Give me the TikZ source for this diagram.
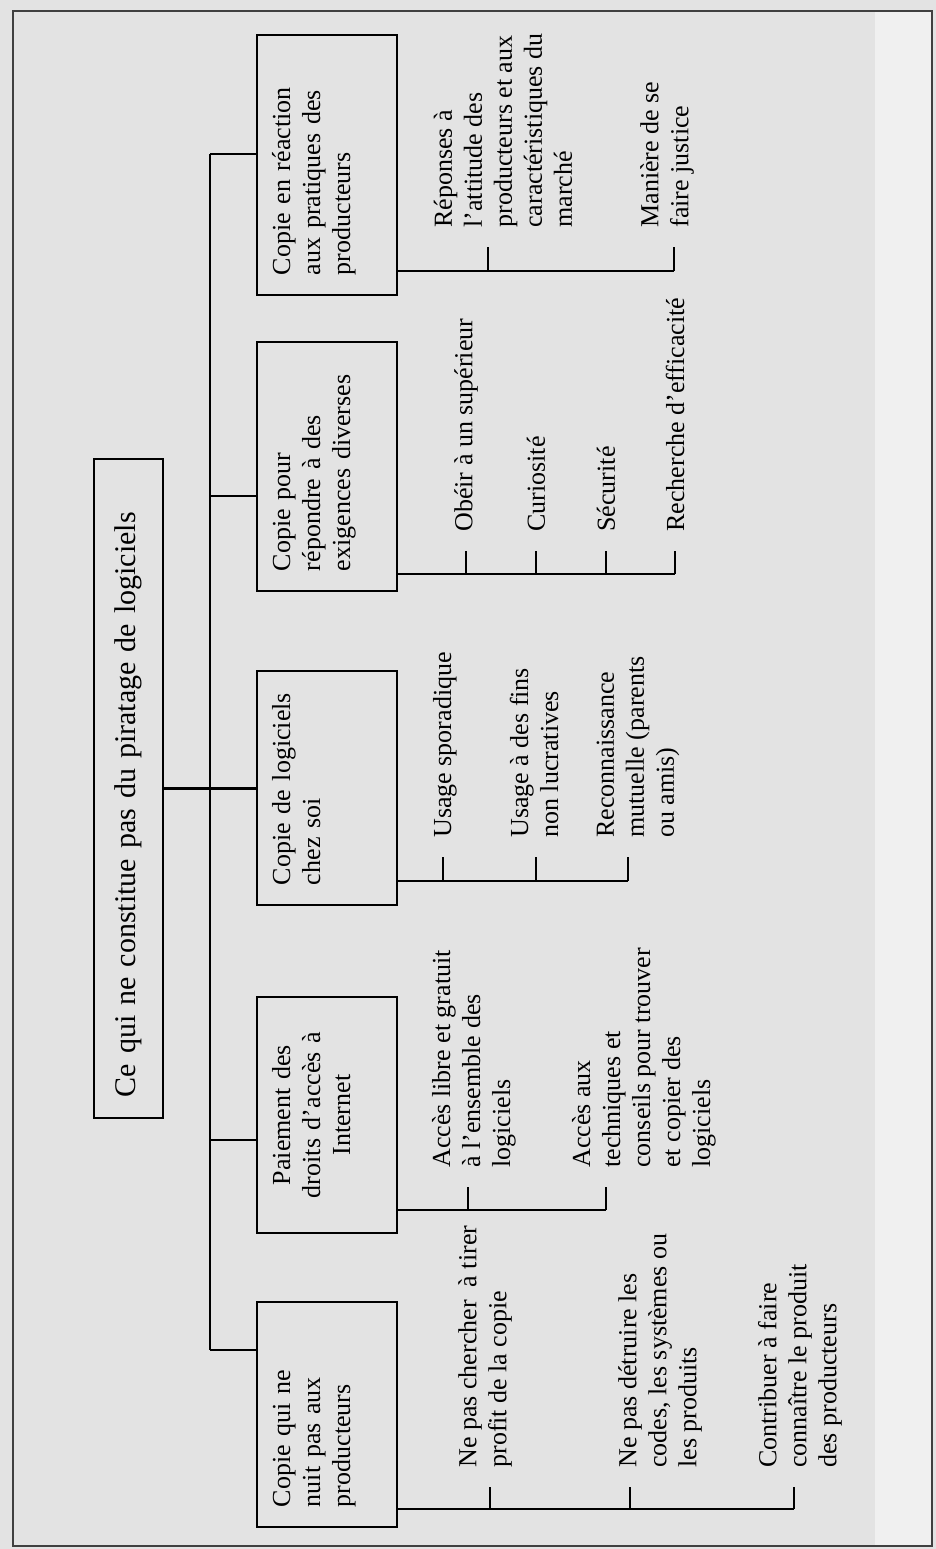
\documentclass[tikz,border=0pt]{standalone}
\usepackage{fontspec}
\setmainfont{Liberation Serif}
\usepackage{tikz}

\definecolor{scan}{gray}{.89}
\definecolor{scanlight}{gray}{.94}

\tikzset{
  frame/.style={draw=black!75, line width=.8pt},
  link/.style={line width=1.25pt},
  rootbox/.style={draw, line width=1.4pt, rotate=90, align=left, text width=308.5pt,
    inner xsep=10.5pt, minimum height=34.5pt, font=\fontsize{15}{18}\selectfont},
  hbox/.style={draw, line width=1.4pt, rotate=90, align=left, inner xsep=10pt,
    inner ysep=7.5pt, text height=9pt, text depth=46pt, font=\fontsize{13}{15}\selectfont},
  leaf/.style={rotate=90, anchor=west, align=left, inner xsep=9.5pt, inner ysep=0pt,
    font=\fontsize{13}{15}\selectfont}
}

\begin{document}
\begin{tikzpicture}[yscale=-1, x=.5pt, y=.5pt]

        % scanned sheet and its frame
        \fill[scan] (0,0) rectangle (936,1549);
        \fill[scanlight] (875,11) rectangle (932,1546);
        \draw[frame] (13,11) rectangle (932,1546);

        \node[rootbox] (root) at (128.5,788.5) {Ce qui ne constitue pas du piratage de logiciels};

        \node[hbox, text width=110pt] (reac) at (327,165) {Copie en réaction\\aux pratiques des\\producteurs};
        \node[hbox, text width=104.5pt] (exig) at (327,466.5) {Copie pour\\répondre à des\\exigences diverses};
        \node[hbox, text width=97pt] (chez) at (327,788) {Copie de logiciels\\chez soi};
        \node[hbox, text width=98pt, align=center] (paie) at (327,1115) {Paiement des\\droits d’accès à\\Internet};
        \node[hbox, text width=92.5pt] (nuit) at (327,1414.5) {Copie qui ne\\nuit pas aux\\producteurs};

        % trunk
        \coordinate (j1) at (210,154);
        \coordinate (j2) at (210,496);
        \coordinate (j4) at (210,1140);
        \coordinate (j5) at (210,1350);
        \draw[link] (j1) -- (j5);
        \draw[link] (root.south) -- (root.south -| chez.north);
        \foreach \j/\b in {j1/reac,j2/exig,j4/paie,j5/nuit} {
          \draw[link] (\j) -- (\j -| \b.north);
        }

        % leaves
        \node[leaf] (r1) at (503,247) {Réponses à\\l’attitude des\\producteurs et aux\\caractéristiques du\\marché};
        \node[leaf] (r2) at (667,247) {Manière de se\\faire justice};
        \coordinate (kr1) at (488,271);
        \coordinate (kr2) at (674,271);

        \node[leaf] (e1) at (466,551) {Obéir à un supérieur};
        \node[leaf] (e2) at (536,551) {Curiosité};
        \node[leaf] (e3) at (606,551) {Sécurité};
        \node[leaf] (e4) at (675,551) {Recherche d’efficacité};
        \coordinate (ke1) at (466,574);
        \coordinate (ke2) at (536,574);
        \coordinate (ke3) at (606,574);
        \coordinate (ke4) at (675,574);

        \node[leaf] (s1) at (445,857) {Usage sporadique};
        \node[leaf] (s2) at (534,857) {Usage à des fins\\non lucratives};
        \node[leaf] (s3) at (638,857) {Reconnaissance\\mutuelle (parents\\ou amis)};
        \coordinate (ks1) at (443,881);
        \coordinate (ks2) at (536,881);
        \coordinate (ks3) at (628,881);

        \node[leaf] (p1) at (474,1187) {Accès libre et gratuit\\à l’ensemble des\\logiciels};
        \node[leaf] (p2) at (644,1187) {Accès aux\\techniques et\\conseils pour trouver\\et copier des\\logiciels};
        \coordinate (kp1) at (468,1210);
        \coordinate (kp2) at (606,1210);

        \node[leaf] (n1) at (485,1487) {Ne pas chercher~ à tirer\\profit de la copie};
        \node[leaf] (n2) at (660,1487) {Ne pas détruire les\\codes, les systèmes ou\\les produits};
        \node[leaf] (n3) at (800,1487) {Contribuer à faire\\connaître le produit\\des producteurs};
        \coordinate (kn1) at (490,1509);
        \coordinate (kn2) at (630,1509);
        \coordinate (kn3) at (794,1509);

        \draw[link] (reac.south |- kr1) -- (kr2);
        \draw[link] (exig.south |- ke1) -- (ke4);
        \draw[link] (chez.south |- ks1) -- (ks3);
        \draw[link] (paie.south |- kp1) -- (kp2);
        \draw[link] (nuit.south |- kn1) -- (kn3);
        \foreach \k/\l in {kr1/r1,kr2/r2,ke1/e1,ke2/e2,ke3/e3,ke4/e4,ks1/s1,ks2/s2,ks3/s3,kp1/p1,kp2/p2,kn1/n1,kn2/n2,kn3/n3} {
          \draw[link] (\k) -- (\k |- \l.west);
        }
    \end{tikzpicture}
\end{document}
